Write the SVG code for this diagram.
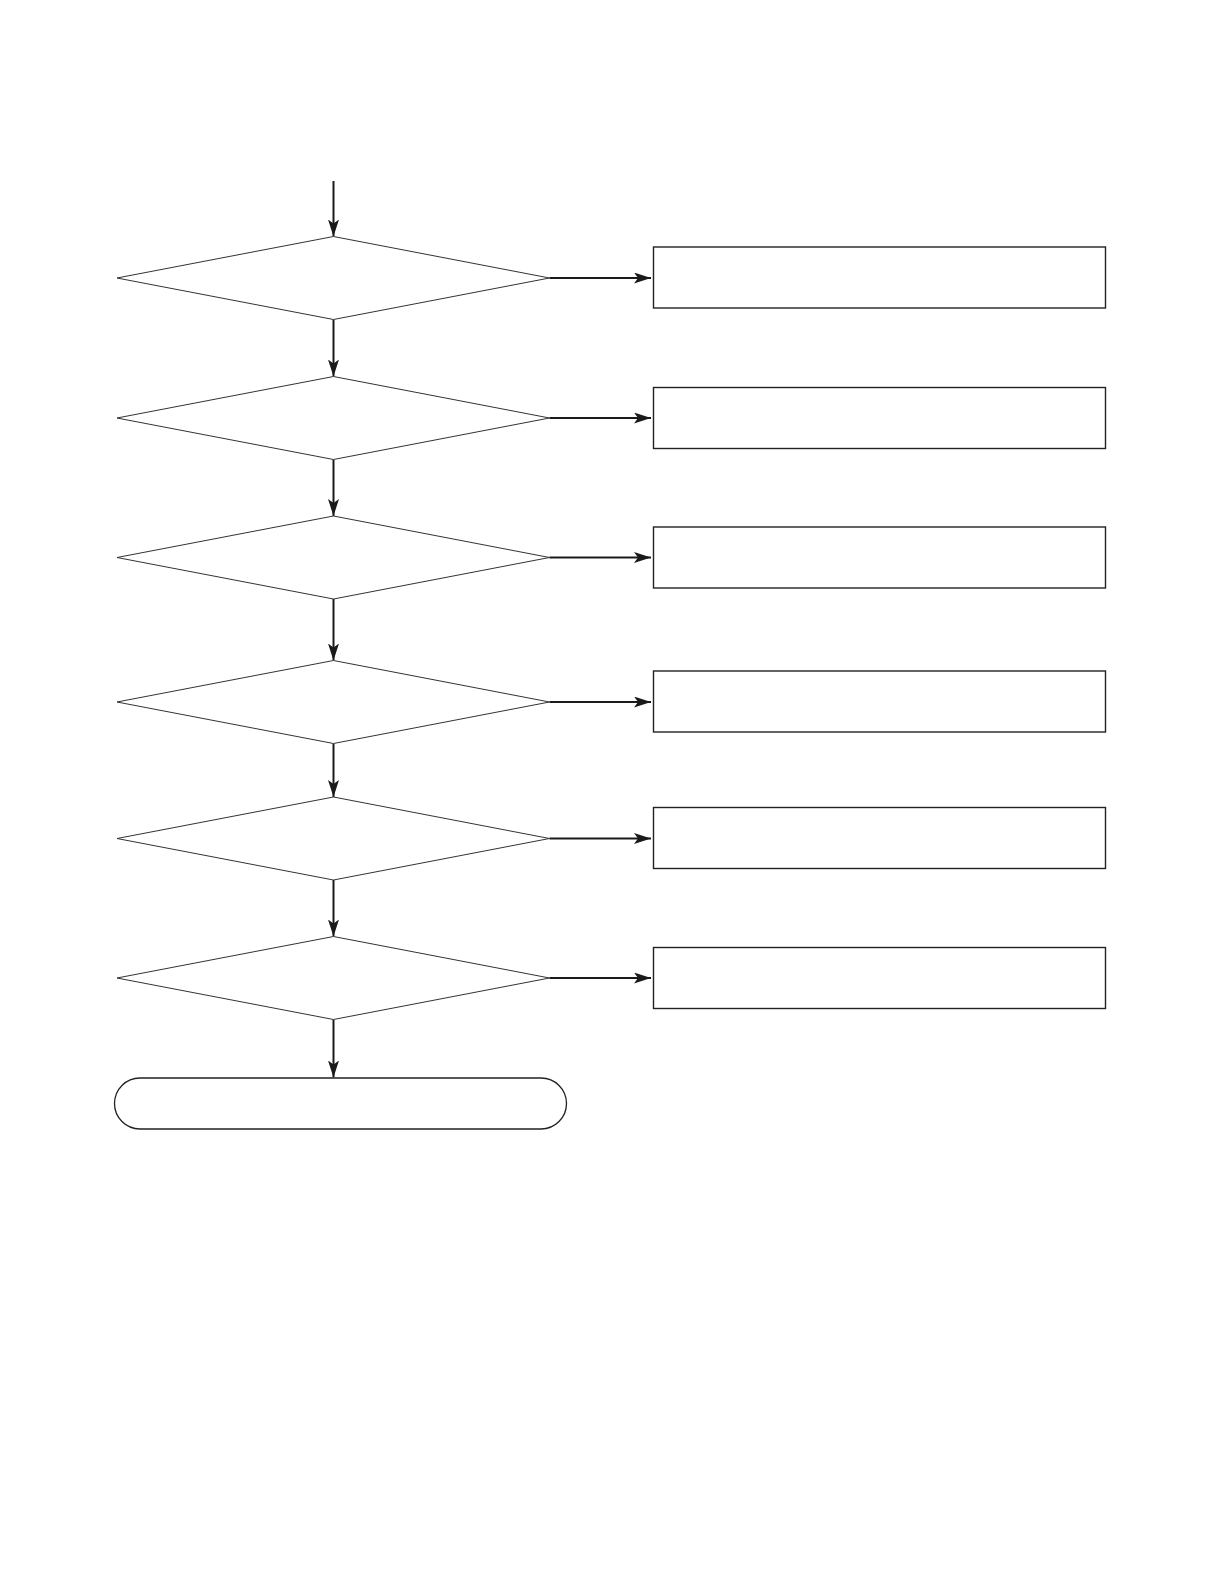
<svg xmlns="http://www.w3.org/2000/svg" width="1218" height="1586" viewBox="0 0 1218 1586">
<defs>
<style>
.dia{fill:#fff;stroke:#333;stroke-width:1}
.box{fill:#fff;stroke:#222;stroke-width:1.4}
.term{fill:#fff;stroke:#222;stroke-width:1.3}
.con{fill:none;stroke:#1a1a1a;stroke-width:2}
</style>
<marker id="ah" markerUnits="userSpaceOnUse" markerWidth="18" markerHeight="12" refX="17" refY="5.5" orient="auto">
<path d="M0,0 L17,5.5 L0,11 L4,5.5 z" fill="#1a1a1a"/>
</marker>
</defs>
<rect width="1218" height="1586" fill="#fff"/>
<g id="connectors">
<line class="con" x1="333.5" y1="181" x2="333.5" y2="236.5" marker-end="url(#ah)"/>
<line class="con" x1="333.5" y1="319.5" x2="333.5" y2="376.5" marker-end="url(#ah)"/>
<line class="con" x1="333.5" y1="459.5" x2="333.5" y2="516" marker-end="url(#ah)"/>
<line class="con" x1="333.5" y1="599" x2="333.5" y2="660.5" marker-end="url(#ah)"/>
<line class="con" x1="333.5" y1="743.5" x2="333.5" y2="797" marker-end="url(#ah)"/>
<line class="con" x1="333.5" y1="880" x2="333.5" y2="936.5" marker-end="url(#ah)"/>
<line class="con" x1="333.5" y1="1019.5" x2="333.5" y2="1077.5" marker-end="url(#ah)"/>
<line class="con" x1="549.5" y1="278" x2="651" y2="278" marker-end="url(#ah)"/>
<line class="con" x1="549.5" y1="418" x2="651" y2="418" marker-end="url(#ah)"/>
<line class="con" x1="549.5" y1="557.5" x2="651" y2="557.5" marker-end="url(#ah)"/>
<line class="con" x1="549.5" y1="702" x2="651" y2="702" marker-end="url(#ah)"/>
<line class="con" x1="549.5" y1="838.5" x2="651" y2="838.5" marker-end="url(#ah)"/>
<line class="con" x1="549.5" y1="978" x2="651" y2="978" marker-end="url(#ah)"/>
</g>
<g id="d1"><polygon class="dia" points="333.5,236.5 549.5,278 333.5,319.5 117,278"/></g>
<g id="d2"><polygon class="dia" points="333.5,376.5 549.5,418 333.5,459.5 117,418"/></g>
<g id="d3"><polygon class="dia" points="333.5,516 549.5,557.5 333.5,599 117,557.5"/></g>
<g id="d4"><polygon class="dia" points="333.5,660.5 549.5,702 333.5,743.5 117,702"/></g>
<g id="d5"><polygon class="dia" points="333.5,797 549.5,838.5 333.5,880 117,838.5"/></g>
<g id="d6"><polygon class="dia" points="333.5,936.5 549.5,978 333.5,1019.5 117,978"/></g>
<g id="b1"><rect class="box" x="653.5" y="247" width="452" height="61"/></g>
<g id="b2"><rect class="box" x="653.5" y="387.5" width="452" height="61"/></g>
<g id="b3"><rect class="box" x="653.5" y="527" width="452" height="61"/></g>
<g id="b4"><rect class="box" x="653.5" y="671" width="452" height="61"/></g>
<g id="b5"><rect class="box" x="653.5" y="807.5" width="452" height="61"/></g>
<g id="b6"><rect class="box" x="653.5" y="947.5" width="452" height="61"/></g>
<g id="end"><rect class="term" x="114.5" y="1078" width="452" height="51" rx="25.5" ry="25.5"/></g>
</svg>
